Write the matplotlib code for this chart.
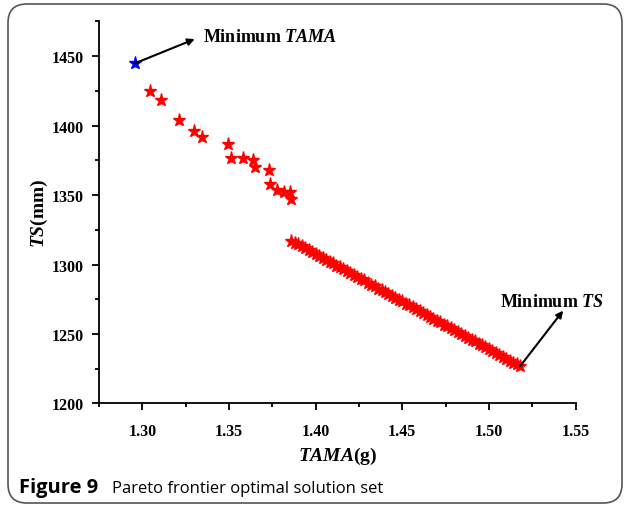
import matplotlib
matplotlib.use("Agg")
import matplotlib.pyplot as plt
from matplotlib.patches import FancyBboxPatch
from matplotlib.ticker import MultipleLocator

# italic variable names in the serif bold face
plt.rcParams["mathtext.fontset"] = "custom"
plt.rcParams["mathtext.it"] = "Liberation Serif:bold:italic"
plt.rcParams["mathtext.rm"] = "Liberation Serif:bold"

# Pareto front: the isolated minimum-TAMA solution (blue)
best_tama_x = [1.2956]
best_tama_y = [1444.8]

# upper scattered branch of the front
upper_x = [1.3042, 1.3106, 1.3210, 1.3300, 1.3346, 1.3494, 1.3514, 1.3581,
           1.3639, 1.3648, 1.3729, 1.3737, 1.3777, 1.3820, 1.3852, 1.3856]
upper_y = [1425.1, 1418.6, 1404.2, 1395.9, 1391.6, 1386.7, 1376.9, 1376.9,
           1375.4, 1370.0, 1368.0, 1358.2, 1353.9, 1352.0, 1352.4, 1347.2]

# dense lower branch ending at minimum TS
lower_x = [1.386, 1.388, 1.390, 1.392, 1.394, 1.396, 1.398, 1.400, 1.402, 1.404,
           1.406, 1.408, 1.410, 1.412, 1.414, 1.416, 1.418, 1.420, 1.422, 1.424,
           1.426, 1.428, 1.430, 1.432, 1.434, 1.436, 1.438, 1.440, 1.442, 1.444,
           1.446, 1.448, 1.450, 1.452, 1.454, 1.456, 1.458, 1.460, 1.462, 1.464,
           1.466, 1.468, 1.470, 1.472, 1.474, 1.476, 1.478, 1.480, 1.482, 1.484,
           1.486, 1.488, 1.490, 1.492, 1.494, 1.496, 1.498, 1.500, 1.502, 1.504,
           1.506, 1.508, 1.510, 1.512, 1.514, 1.516, 1.518]
lower_y = [1317.2, 1315.6, 1314.9, 1313.1, 1311.6, 1310.6, 1308.9, 1307.5, 1306.4, 1304.6,
           1303.6, 1301.9, 1300.9, 1299.2, 1298.0, 1296.8, 1295.1, 1293.9, 1292.3, 1291.3,
           1289.7, 1288.6, 1286.9, 1285.6, 1284.4, 1282.7, 1281.6, 1280.0, 1278.9, 1277.3,
           1276.1, 1274.6, 1273.5, 1271.8, 1270.6, 1269.3, 1267.7, 1266.6, 1265.0, 1263.8,
           1262.2, 1261.1, 1259.5, 1258.4, 1256.7, 1255.6, 1254.0, 1252.9, 1251.3, 1250.1,
           1248.5, 1247.4, 1245.8, 1244.6, 1243.0, 1241.9, 1240.3, 1239.1, 1237.5, 1236.4,
           1234.8, 1233.6, 1232.0, 1230.9, 1229.3, 1228.1, 1226.8]

serif = "Liberation Serif"

fig = plt.figure(figsize=(6.27, 5.10), dpi=100)
ax = fig.add_axes([0.158, 0.207, 0.760, 0.749])

ax.plot(upper_x, upper_y, linestyle="none", marker="*", ms=9.5, color="red", mec="red")
ax.plot(lower_x, lower_y, linestyle="none", marker="*", ms=9.5, color="red", mec="red")
ax.plot(best_tama_x, best_tama_y, linestyle="none", marker="*", ms=9.5, color="blue", mec="blue")

ax.set_xlim(1.275, 1.55)
ax.set_ylim(1200, 1475)
ax.xaxis.set_major_locator(MultipleLocator(0.05))
ax.xaxis.set_minor_locator(MultipleLocator(0.025))
ax.yaxis.set_major_locator(MultipleLocator(50))
ax.yaxis.set_minor_locator(MultipleLocator(25))
ax.xaxis.set_major_formatter(lambda v, p: f"{v:.2f}")
ax.yaxis.set_major_formatter(lambda v, p: f"{v:.0f}")

for side in ("top", "right"):
    ax.spines[side].set_visible(False)
for side in ("left", "bottom"):
    ax.spines[side].set_linewidth(1.3)
ax.tick_params(which="major", direction="out", length=5, width=1.3, pad=6)
ax.tick_params(which="minor", direction="out", length=3, width=1.3)
for lab in ax.get_xticklabels() + ax.get_yticklabels():
    lab.set_fontfamily(serif)
    lab.set_fontweight("bold")
    lab.set_fontsize(11.5)
ax.xaxis.set_tick_params(pad=9)

ax.set_xlabel(r"$\mathit{TAMA}$(g)", fontfamily=serif, fontweight="bold", fontsize=14, labelpad=4)
ax.set_ylabel(r"$\mathit{TS}$(mm)", fontfamily=serif, fontweight="bold", fontsize=14, labelpad=1)

arrow = dict(arrowstyle="-|>", color="black", lw=1.5, mutation_scale=10, shrinkA=0, shrinkB=0)
ax.annotate("", xy=(1.3302, 1462.3), xytext=(best_tama_x[0], best_tama_y[0]), arrowprops=arrow)
ax.text(1.3348, 1464.5, r"Minimum $\mathit{TAMA}$", fontfamily=serif, fontweight="bold",
        fontsize=13, va="center", ha="left")
ax.annotate("", xy=(1.5428, 1266.8), xytext=(lower_x[-1], lower_y[-1]), arrowprops=arrow)
ax.text(1.5063, 1273.7, r"Minimum $\mathit{TS}$", fontfamily=serif, fontweight="bold",
        fontsize=13, va="center", ha="left", clip_on=False)

# caption below the plot
fig.text(19 / 627, 1 - 493 / 510, "Figure 9", fontfamily="Open Sans", fontweight="bold",
         fontsize=14.5, va="baseline", ha="left")
fig.text(112 / 627, 1 - 493 / 510, "Pareto frontier optimal solution set", fontfamily="Open Sans",
         fontsize=12, va="baseline", ha="left")

# rounded frame around the whole figure
frame = FancyBboxPatch((8 / 627, 6 / 510), 614 / 627, 499 / 510,
                       boxstyle="round,pad=0,rounding_size=0.03", transform=fig.transFigure,
                       fill=False, edgecolor="#555555", lw=1.2, mutation_aspect=627 / 510)
fig.patches.append(frame)

fig.savefig("out.png", dpi=100)
